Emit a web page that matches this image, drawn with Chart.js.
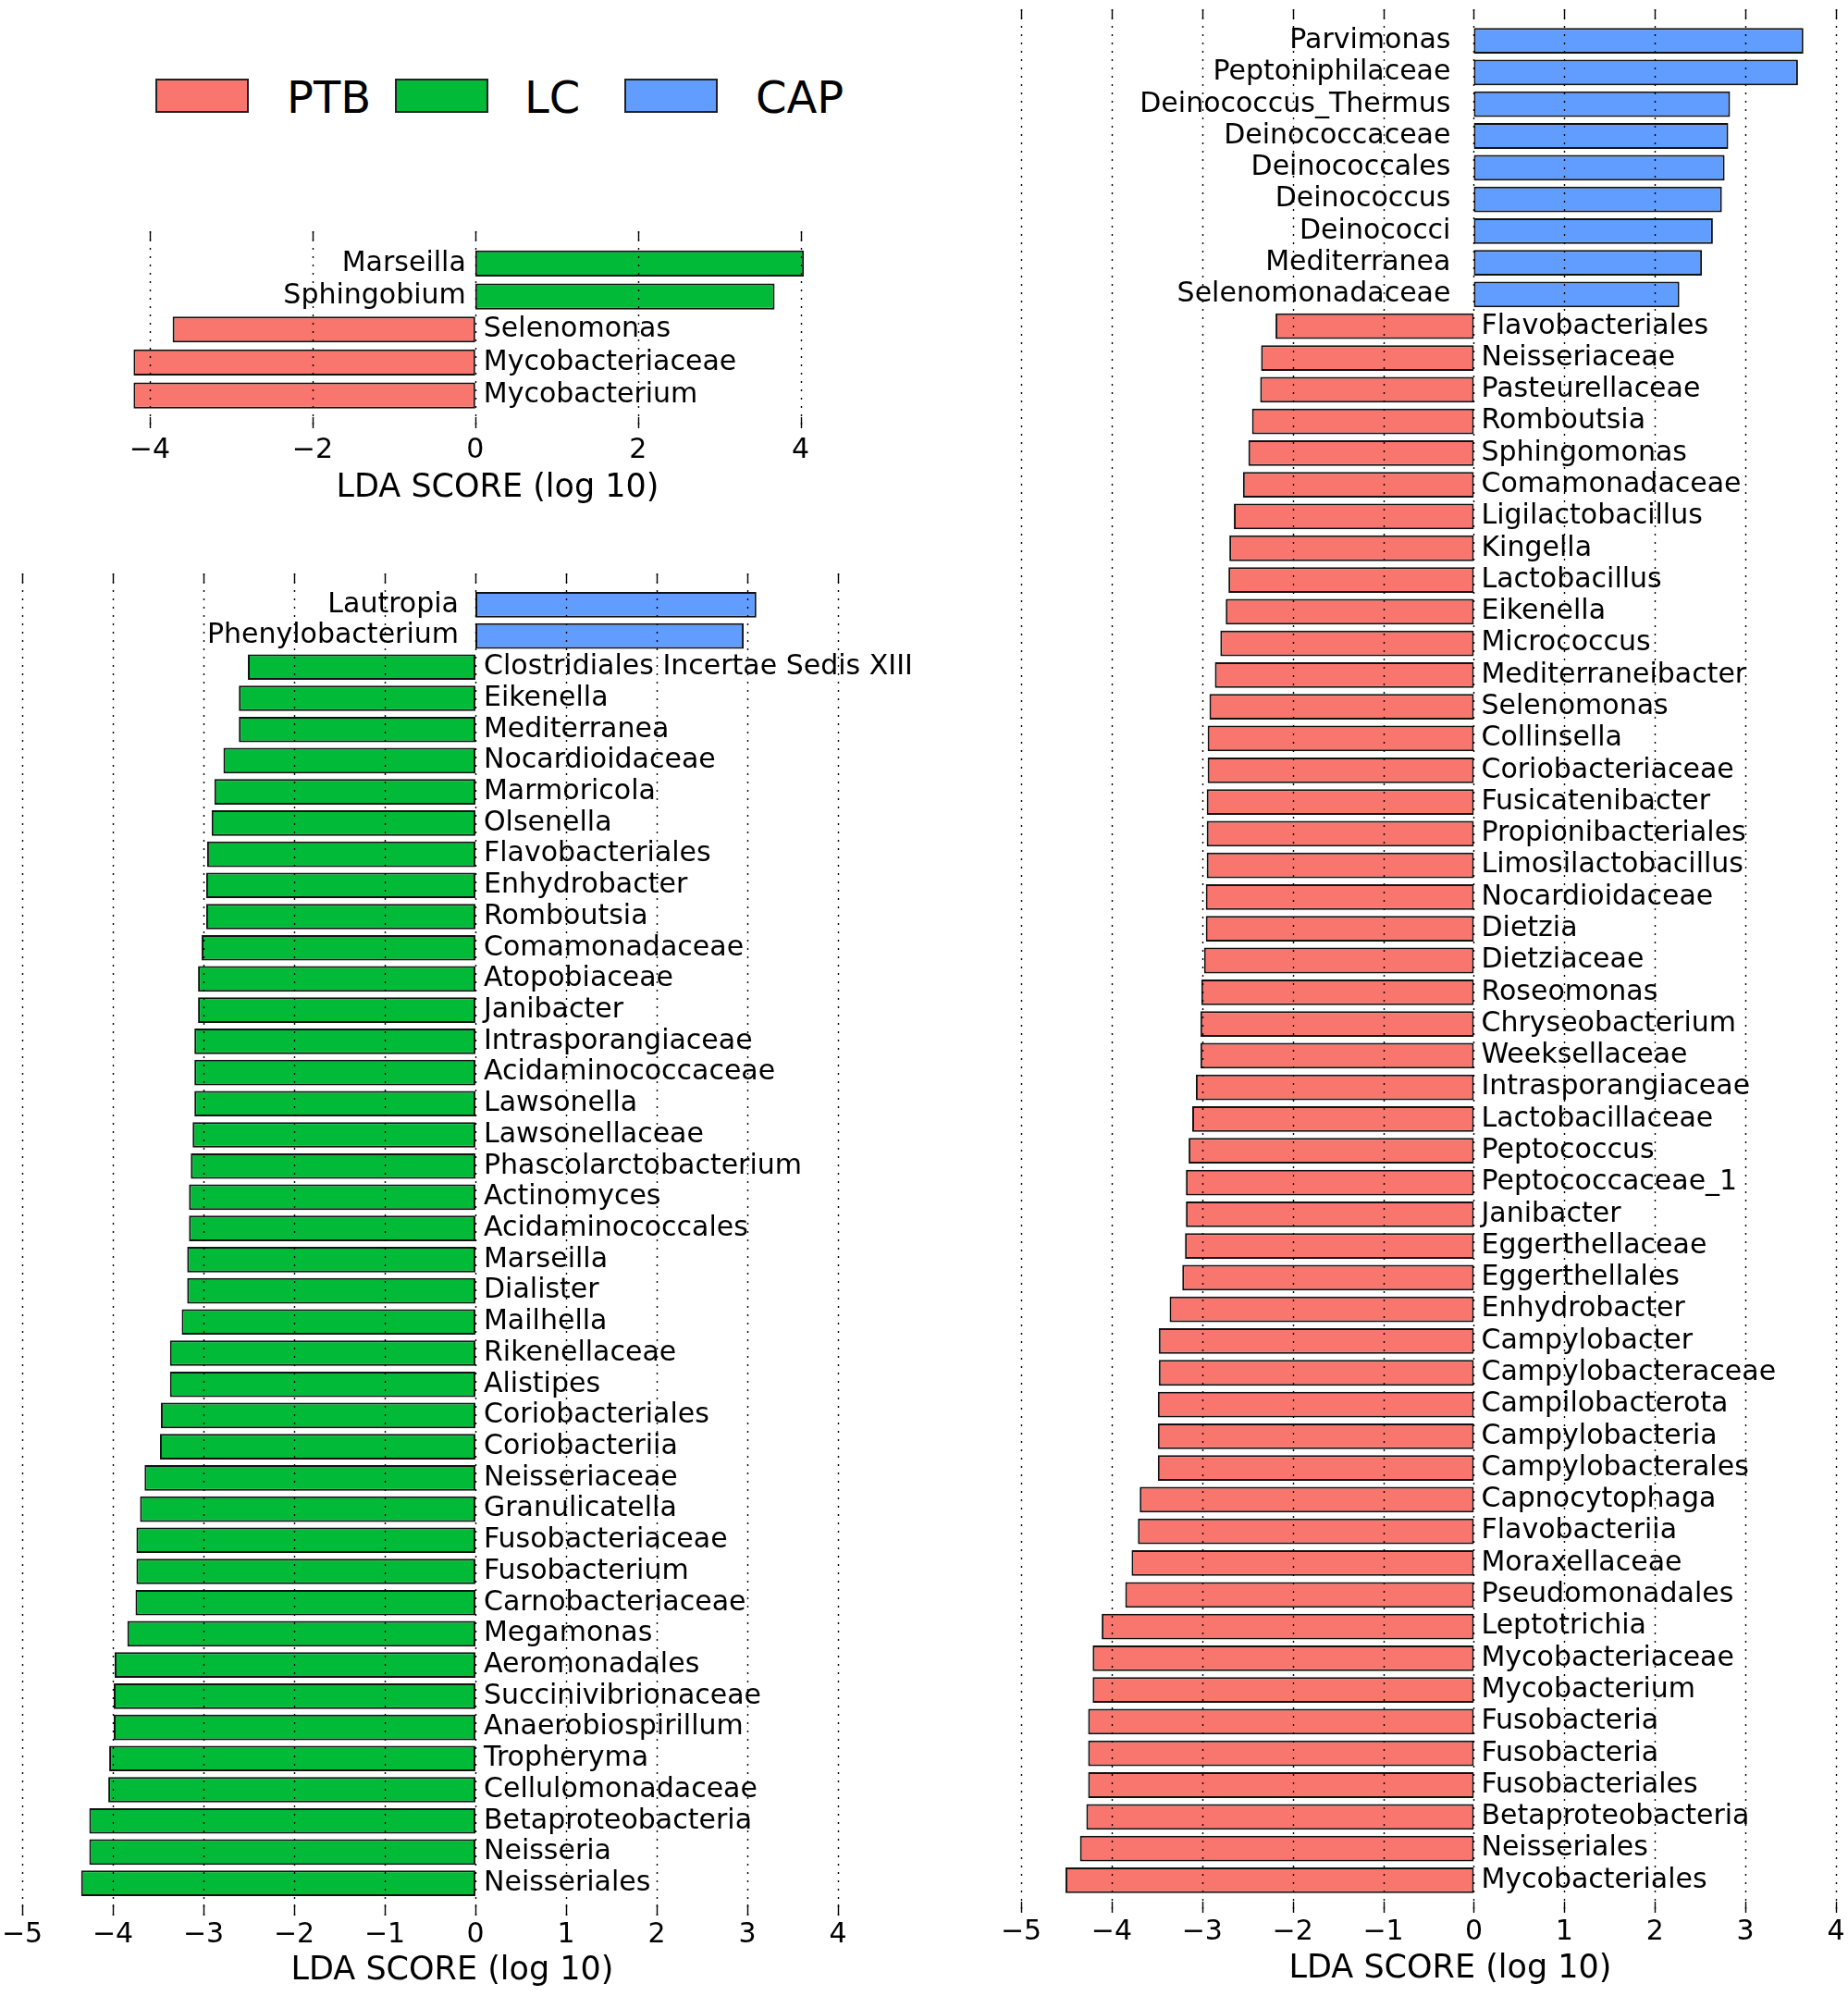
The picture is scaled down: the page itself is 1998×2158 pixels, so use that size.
<!DOCTYPE html>
<html>
<head>
<meta charset="utf-8">
<script src="https://cdn.jsdelivr.net/npm/chart.js@4.4.0/dist/chart.umd.min.js"></script>
<style>
    body { margin: 0; background: #fff; width: 1998px; height: 2158px; position: relative; overflow: hidden; font-family: "DejaVu Sans", sans-serif; }
    canvas { position: absolute; }
    .box { position: absolute; top: 85px; width: 97px; height: 33px; border: 2px solid #222; }
    .txt { position: absolute; top: 81px; font-size: 48px; line-height: 48px; color: #000; }
</style>
</head>
<body>
<div class="box" style="left:168px; background:#F8766D"></div><div class="txt" style="left:310px">PTB</div>
<div class="box" style="left:427px; background:#00BA38"></div><div class="txt" style="left:567px">LC</div>
<div class="box" style="left:675px; background:#619CFF"></div><div class="txt" style="left:817px">CAP</div>

<canvas id="topChart" width="1000" height="420" style="left:0; top:140px"></canvas>
<canvas id="leftChart" width="1000" height="1598" style="left:0; top:560px"></canvas>
<canvas id="rightChart" width="1042" height="2158" style="left:1000px; top:0"></canvas>

<script>
var groupColors = {PTB: '#F8766D', LC: '#00BA38', CAP: '#619CFF'};

// top panel
var topNames = ['Marseilla', 'Sphingobium', 'Selenomonas', 'Mycobacteriaceae', 'Mycobacterium'];
var topScores = [4.04, 3.68, -3.72, -4.20, -4.20];
var topGroups = ['LC', 'LC', 'PTB', 'PTB', 'PTB'];
var topTicks = [-4, -2, 0, 2, 4];

// bottom left panel
var leftNames = ['Lautropia', 'Phenylobacterium', 'Clostridiales Incertae Sedis XIII', 'Eikenella', 'Mediterranea',
    'Nocardioidaceae', 'Marmoricola', 'Olsenella', 'Flavobacteriales', 'Enhydrobacter', 'Romboutsia',
    'Comamonadaceae', 'Atopobiaceae', 'Janibacter', 'Intrasporangiaceae', 'Acidaminococcaceae', 'Lawsonella',
    'Lawsonellaceae', 'Phascolarctobacterium', 'Actinomyces', 'Acidaminococcales', 'Marseilla', 'Dialister',
    'Mailhella', 'Rikenellaceae', 'Alistipes', 'Coriobacteriales', 'Coriobacteriia', 'Neisseriaceae',
    'Granulicatella', 'Fusobacteriaceae', 'Fusobacterium', 'Carnobacteriaceae', 'Megamonas', 'Aeromonadales',
    'Succinivibrionaceae', 'Anaerobiospirillum', 'Tropheryma', 'Cellulomonadaceae', 'Betaproteobacteria',
    'Neisseria', 'Neisseriales'];
var leftScores = [3.10, 2.96, -2.51, -2.61, -2.61,
    -2.78, -2.88, -2.91, -2.96, -2.97, -2.97,
    -3.02, -3.06, -3.06, -3.10, -3.10, -3.10,
    -3.12, -3.14, -3.16, -3.16, -3.18, -3.18,
    -3.24, -3.37, -3.37, -3.47, -3.48, -3.65,
    -3.70, -3.74, -3.74, -3.75, -3.84, -3.98,
    -3.99, -3.99, -4.04, -4.05, -4.26,
    -4.26, -4.35];
var leftGroups = ['CAP', 'CAP', 'LC', 'LC', 'LC', 'LC', 'LC', 'LC', 'LC', 'LC', 'LC', 'LC', 'LC', 'LC', 'LC',
    'LC', 'LC', 'LC', 'LC', 'LC', 'LC', 'LC', 'LC', 'LC', 'LC', 'LC', 'LC', 'LC', 'LC', 'LC', 'LC', 'LC', 'LC',
    'LC', 'LC', 'LC', 'LC', 'LC', 'LC', 'LC', 'LC', 'LC'];
var leftTicks = [-5, -4, -3, -2, -1, 0, 1, 2, 3, 4];

// right panel
var rightNames = ['Parvimonas', 'Peptoniphilaceae', 'Deinococcus_Thermus', 'Deinococcaceae', 'Deinococcales',
    'Deinococcus', 'Deinococci', 'Mediterranea', 'Selenomonadaceae', 'Flavobacteriales', 'Neisseriaceae',
    'Pasteurellaceae', 'Romboutsia', 'Sphingomonas', 'Comamonadaceae', 'Ligilactobacillus', 'Kingella',
    'Lactobacillus', 'Eikenella', 'Micrococcus', 'Mediterraneibacter', 'Selenomonas', 'Collinsella',
    'Coriobacteriaceae', 'Fusicatenibacter', 'Propionibacteriales', 'Limosilactobacillus', 'Nocardioidaceae',
    'Dietzia', 'Dietziaceae', 'Roseomonas', 'Chryseobacterium', 'Weeksellaceae', 'Intrasporangiaceae',
    'Lactobacillaceae', 'Peptococcus', 'Peptococcaceae_1', 'Janibacter', 'Eggerthellaceae', 'Eggerthellales',
    'Enhydrobacter', 'Campylobacter', 'Campylobacteraceae', 'Campilobacterota', 'Campylobacteria',
    'Campylobacterales', 'Capnocytophaga', 'Flavobacteriia', 'Moraxellaceae', 'Pseudomonadales', 'Leptotrichia',
    'Mycobacteriaceae', 'Mycobacterium', 'Fusobacteria', 'Fusobacteria', 'Fusobacteriales',
    'Betaproteobacteria', 'Neisseriales', 'Mycobacteriales'];
var rightScores = [3.64, 3.58, 2.83, 2.81, 2.77,
    2.74, 2.64, 2.52, 2.27, -2.19, -2.35,
    -2.36, -2.45, -2.49, -2.55, -2.65, -2.70,
    -2.71, -2.74, -2.80, -2.86, -2.92, -2.94,
    -2.94, -2.95, -2.95, -2.95, -2.96,
    -2.96, -2.98, -3.01, -3.02, -3.02, -3.07,
    -3.11, -3.15, -3.18, -3.18, -3.19, -3.22,
    -3.36, -3.48, -3.48, -3.49, -3.49,
    -3.49, -3.69, -3.71, -3.78, -3.85, -4.11,
    -4.21, -4.21, -4.26, -4.26, -4.26,
    -4.28, -4.35, -4.51];
var rightGroups = ['CAP', 'CAP', 'CAP', 'CAP', 'CAP', 'CAP', 'CAP', 'CAP', 'CAP',
    'PTB', 'PTB', 'PTB', 'PTB', 'PTB', 'PTB', 'PTB', 'PTB', 'PTB', 'PTB', 'PTB', 'PTB', 'PTB', 'PTB', 'PTB',
    'PTB', 'PTB', 'PTB', 'PTB', 'PTB', 'PTB', 'PTB', 'PTB', 'PTB', 'PTB', 'PTB', 'PTB', 'PTB', 'PTB', 'PTB',
    'PTB', 'PTB', 'PTB', 'PTB', 'PTB', 'PTB', 'PTB', 'PTB', 'PTB', 'PTB', 'PTB', 'PTB', 'PTB', 'PTB', 'PTB',
    'PTB', 'PTB', 'PTB', 'PTB', 'PTB'];
var rightTicks = [-5, -4, -3, -2, -1, 0, 1, 2, 3, 4];

// dotted grid, small tick marks and the feature names beside the zero line
var lefsePlugin = {
    id: 'lefse',
    afterDatasetsDraw: function(chart, args, o) {
        var ctx = chart.ctx;
        var a = chart.chartArea;
        var x = chart.scales.x;
        var top = a.top - o.extTop;
        var bot = a.bottom + o.extBot;
        ctx.save();
        ctx.strokeStyle = '#000';
        ctx.lineWidth = 1.4;
        x.ticks.forEach(function(t) {
            var px = Math.round(x.getPixelForValue(t.value)) + 0.5;
            ctx.setLineDash([2, 7]);
            ctx.beginPath();
            ctx.moveTo(px, top);
            ctx.lineTo(px, bot);
            ctx.stroke();
            ctx.setLineDash([]);
            ctx.beginPath();
            ctx.moveTo(px, top);
            ctx.lineTo(px, top + 10);
            ctx.moveTo(px, bot - 12);
            ctx.lineTo(px, bot);
            ctx.stroke();
        });
        var meta = chart.getDatasetMeta(0);
        var zero = x.getPixelForValue(0);
        ctx.fillStyle = '#000';
        ctx.font = '30px "DejaVu Sans"';
        ctx.textBaseline = 'middle';
        meta.data.forEach(function(bar, i) {
            var v = chart.data.datasets[0].data[i];
            var name = chart.data.labels[i];
            if (v >= 0) {
                ctx.textAlign = 'right';
                ctx.fillText(name, zero - o.gapLeft, bar.y);
            } else {
                ctx.textAlign = 'left';
                ctx.fillText(name, zero + o.gapRight, bar.y);
            }
        });
        ctx.restore();
    }
};

function veTieuDo(id, names, scores, groups, ticks, opt) {
    var config = {
        type: 'bar',
        data: {
            labels: names,
            datasets: [{
                data: scores,
                backgroundColor: groups.map(g => groupColors[g]),
                borderColor: '#111',
                borderWidth: 2,
                borderSkipped: false,
                barPercentage: opt.barPct,
                categoryPercentage: 1
            }]
        },
        options: {
            indexAxis: 'y',
            responsive: false,
            animation: false,
            devicePixelRatio: 1,
            layout: {padding: {left: opt.padL, right: opt.padR, top: opt.padT, bottom: 0}},
            plugins: {
                legend: {display: false},
                tooltip: {enabled: false},
                lefse: {extTop: opt.extTop, extBot: opt.extBot, gapLeft: opt.gapL, gapRight: opt.gapR}
            },
            scales: {
                x: {
                    min: opt.xmin,
                    max: opt.xmax,
                    afterBuildTicks: function(s) { s.ticks = ticks.map(v => ({value: v})); },
                    afterFit: function(s) { s.height = opt.axisH; },
                    grid: {display: false, drawTicks: false},
                    border: {display: false},
                    ticks: {
                        // tick padding also widens the side padding, so the gap comes from lineHeight
                        font: {family: 'DejaVu Sans', size: 30, lineHeight: opt.tickLH},
                        color: '#000',
                        padding: 0,
                        maxRotation: 0,
                        autoSkip: false,
                        callback: (value) => value < 0 ? '\u2212' + Math.abs(value) : '' + value
                    },
                    title: {
                        display: true,
                        text: 'LDA SCORE (log 10)',
                        font: {family: 'DejaVu Sans', size: 35},
                        color: '#000',
                        padding: {top: 0, bottom: opt.titlePad}
                    }
                },
                y: {display: false, offset: true, grid: {display: false}}
            }
        },
        plugins: [lefsePlugin]
    };
    var ctx = document.getElementById(id).getContext('2d');
    return new Chart(ctx, config);
}

veTieuDo('topChart', topNames, topScores, topGroups, topTicks, {
    xmin: -4.5, xmax: 5.05, padL: 118, padR: 42, padT: 127, axisH: 114.5, tickLH: '84px',
    titlePad: 11, barPct: 0.79, extTop: 17, extBot: 17.5, gapL: 10, gapR: 9
});
veTieuDo('leftChart', leftNames, leftScores, leftGroups, leftTicks, {
    xmin: -5, xmax: 4.49, padL: 24, padR: 46, padT: 77, axisH: 105, tickLH: '78px',
    titlePad: 6, barPct: 0.82, extTop: 17, extBot: 18, gapL: 18, gapR: 9
});
veTieuDo('rightChart', rightNames, rightScores, rightGroups, rightTicks, {
    xmin: -5, xmax: 4.48, padL: 104, padR: 10, padT: 27, axisH: 108, tickLH: '78px',
    titlePad: 8, barPct: 0.81, extTop: 17, extBot: 18, gapL: 25, gapR: 8
});
</script>
</body>
</html>
